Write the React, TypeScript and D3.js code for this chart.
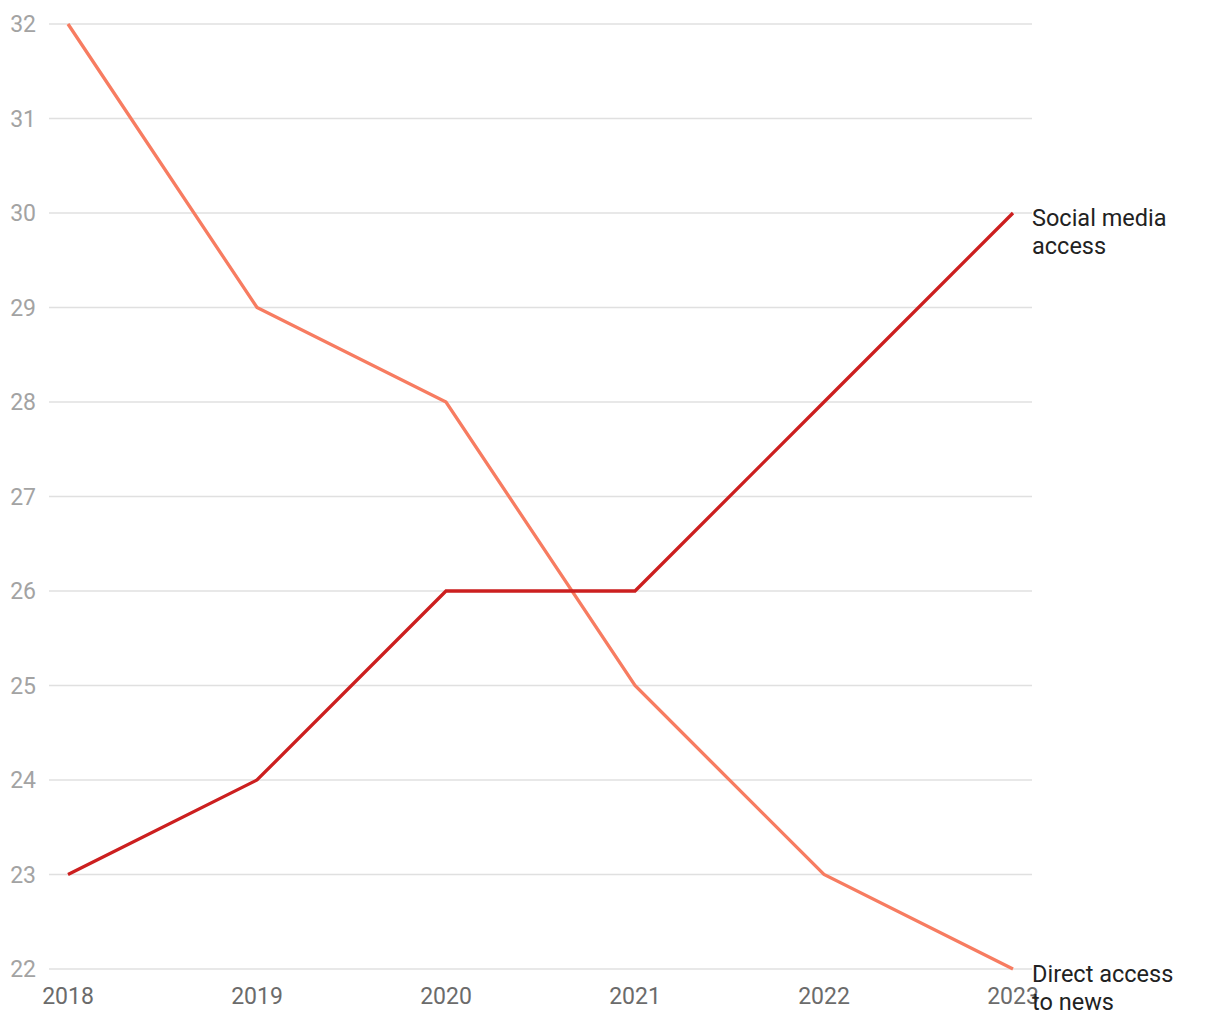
import React from "react";
import * as d3 from "d3";

const years = [2018, 2019, 2020, 2021, 2022, 2023];
const socialMedia = [23, 24, 26, 26, 28, 30];
const directAccess = [32, 29, 28, 25, 23, 22];
const yTicks = [22, 23, 24, 25, 26, 27, 28, 29, 30, 31, 32];
const seriesLabels = [
  { name: ["Social media", "access"], values: socialMedia, color: "#cc1f1f" },
  { name: ["Direct access", "to news"], values: directAccess, color: "#f77c61" },
];

export default function App() {
  const W = 1220, H = 1020;
  const x = d3.scaleLinear().domain([2018, 2023]).range([68, 1013]);
  const y = d3.scaleLinear().domain([22, 32]).range([969, 24]);
  const line = d3.line<number>().x((_, i) => x(years[i])).y((d) => y(d));
  const font = "Roboto, 'Noto Sans', sans-serif";
  const order = [seriesLabels[1], seriesLabels[0]];
  return (
    <svg width={W} height={H} style={{ position: "absolute", left: 0, top: 0, background: "#fff" }} fontFamily={font}>
      {yTicks.map((t) => (
        <g key={t}>
          <line x1={49} x2={1032} y1={y(t)} y2={y(t)} stroke="#e0e0e0" strokeWidth={1.3} />
          <text x={36} y={y(t)} dy="0.35em" textAnchor="end" fontSize={23} fill="#a3a3a3">{t}</text>
        </g>
      ))}
      {years.map((yr) => (
        <text key={yr} x={x(yr)} y={1004} textAnchor="middle" fontSize={23} fill="#6b6b6b">{yr}</text>
      ))}
      {order.map((s) => (
        <path key={s.name[0]} d={line(s.values) || ""} fill="none" stroke={s.color} strokeWidth={3.3} strokeLinejoin="miter" />
      ))}
      {seriesLabels.map((s) => {
        const last = s.values[s.values.length - 1];
        return (
          <text key={s.name[0]} x={1032} y={y(last) + 13} fontSize={23.5} fill="#222">
            {s.name.map((n, i) => (
              <tspan key={i} x={1032} dy={i === 0 ? 0 : 28}>{n}</tspan>
            ))}
          </text>
        );
      })}
    </svg>
  );
}
